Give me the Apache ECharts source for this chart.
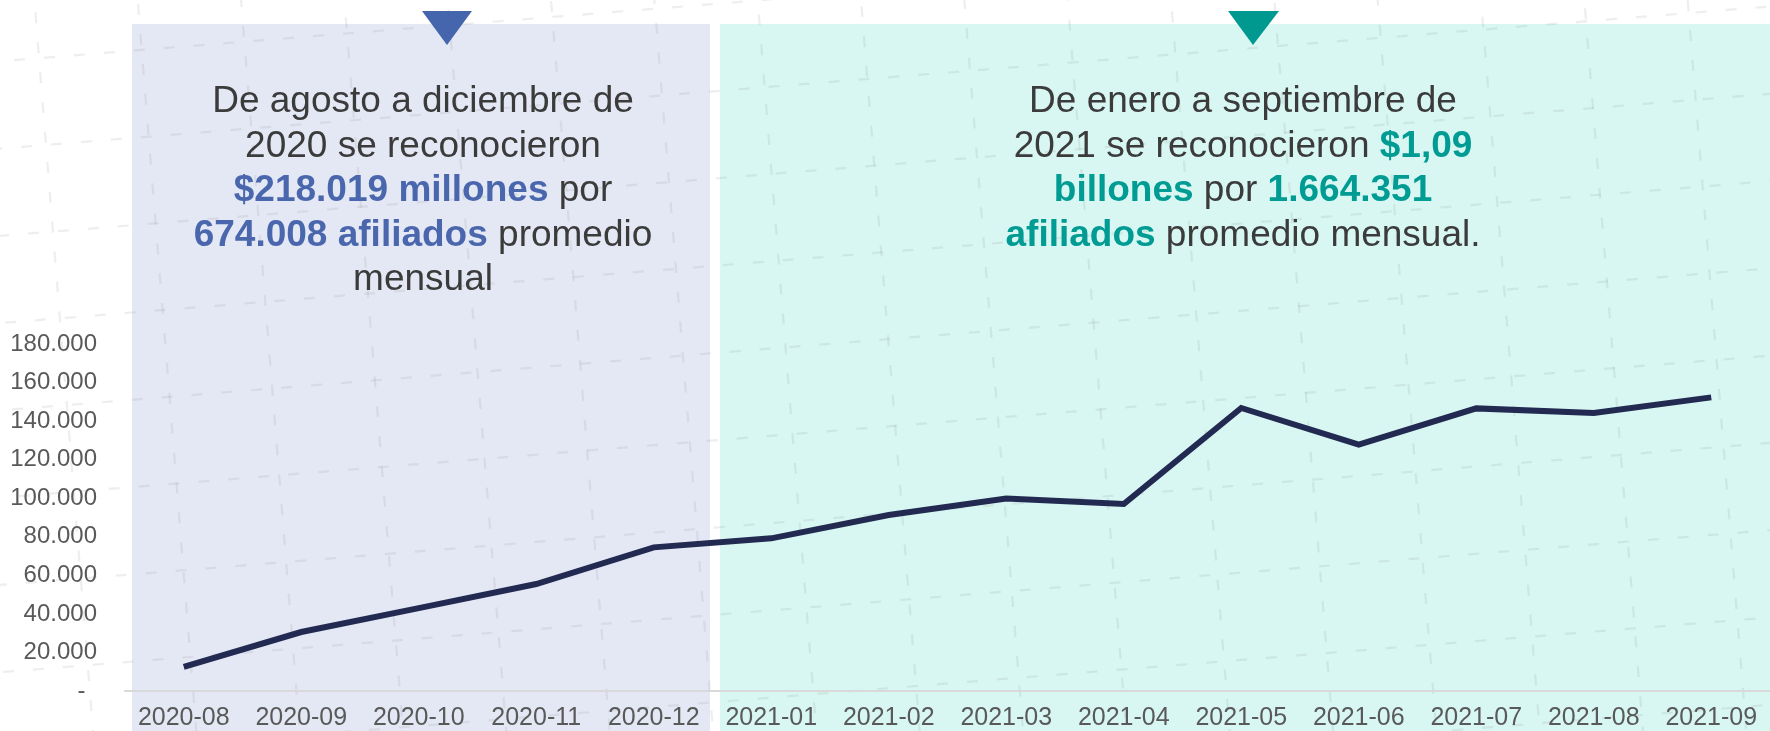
<!DOCTYPE html>
<html><head><meta charset="utf-8">
<script src="https://cdn.jsdelivr.net/npm/echarts@6/dist/echarts.min.js"></script>
<style>html,body{margin:0;padding:0;background:#fff}#c{width:1770px;height:731px}</style>
</head><body><div id="c"></div>
<script>
const categories = ['2020-08','2020-09','2020-10','2020-11','2020-12','2021-01','2021-02','2021-03','2021-04','2021-05','2021-06','2021-07','2021-08','2021-09'];
const values = [12500, 30600, 43000, 55500, 74500, 79200, 91300, 99900, 97000, 146800, 127800, 146600, 144200, 152300];
const yMin = 0, yMax = 180000, yStep = 20000;
const leftText = 'De agosto a diciembre de\n2020 se reconocieron\n{b|$218.019 millones} por\n{b|674.008 afiliados} promedio\nmensual';
const rightText = 'De enero a septiembre de\n2021 se reconocieron {t|$1,09}\n{t|billones} por {t|1.664.351}\n{t|afiliados} promedio mensual.';

function fmt(v){
  if (v === 0) return '- \u2009';
  return String(v).replace(/\B(?=(\d{3})+(?!\d))/g, '.');
}
const FONT = '"Liberation Sans", Arial, sans-serif';

// decorative tilted dashed background texture
function texture(){
  const els = [];
  const s = 0.08, c = Math.sqrt(1 - s*s);
  const O = [1593, 108];
  const e1 = [c, -s], e2 = [s, c];
  const L = 2200;
  const style = {stroke:'rgba(140,140,140,0.15)', lineWidth:2.2, lineDash:[11,19]};
  for (let k = -18; k <= 3; k++) {
    const px = O[0] + k*103*e1[0], py = O[1] + k*103*e1[1];
    els.push({type:'line', z:-5, silent:true, shape:{x1:px - L*e2[0], y1:py - L*e2[1], x2:px + L*e2[0], y2:py + L*e2[1]}, style});
  }
  for (let m = -4; m <= 9; m++) {
    const px = O[0] + m*87*e2[0], py = O[1] + m*87*e2[1];
    els.push({type:'line', z:-5, silent:true, shape:{x1:px - L*e1[0], y1:py - L*e1[1], x2:px + L*e1[0], y2:py + L*e1[1]}, style});
  }
  return els;
}

const chart = echarts.init(document.getElementById('c'), null, {renderer:'canvas'});
chart.setOption({
  animation:false,
  backgroundColor:'#ffffff',
  grid:{left:125, width:1652, top:344, bottom:39},
  xAxis:{type:'category', data:categories, boundaryGap:true,
    axisLine:{show:true, lineStyle:{color:'#d9d9d9', width:2}},
    axisTick:{show:false},
    axisLabel:{color:'#595959', fontSize:25, fontFamily:FONT, margin:15, interval:0},
    splitLine:{show:false}},
  yAxis:{type:'value', min:yMin, max:yMax, interval:yStep,
    axisLine:{show:false}, axisTick:{show:false}, splitLine:{show:false},
    axisLabel:{color:'#595959', fontSize:24, fontFamily:FONT, margin:28, formatter:fmt}},
  series:[{type:'line', data:values, showSymbol:false, symbol:'none',
    lineStyle:{color:'#232a52', width:6, join:'miter'}, z:5}],
  graphic:[
    {type:'rect', z:-10, silent:true, shape:{x:132,y:24,width:578,height:707}, style:{fill:'#e4e8f4'}},
    {type:'rect', z:-10, silent:true, shape:{x:720,y:24,width:1050,height:707}, style:{fill:'#d8f7f2'}},
    ...texture(),
    {type:'polygon', z:1, shape:{points:[[422,11],[472,11],[447,45]]}, style:{fill:'#4565ad'}},
    {type:'polygon', z:1, shape:{points:[[1228,11],[1279,11],[1253,45]]}, style:{fill:'#009990'}},
    {type:'text', z:2, x:423, y:80, style:{text:leftText, fill:'#3b3b3b', font:'37px '+FONT,
      textAlign:'center', textVerticalAlign:'top', lineHeight:44.5,
      rich:{b:{fill:'#4a67ae', fontWeight:'bold', fontSize:37, fontFamily:FONT, lineHeight:44.5}}}},
    {type:'text', z:2, x:1243, y:80, style:{text:rightText, fill:'#3b3b3b', font:'37px '+FONT,
      textAlign:'center', textVerticalAlign:'top', lineHeight:44.5,
      rich:{t:{fill:'#009b93', fontWeight:'bold', fontSize:37, fontFamily:FONT, lineHeight:44.5}}}}
  ]
});
</script></body></html>
